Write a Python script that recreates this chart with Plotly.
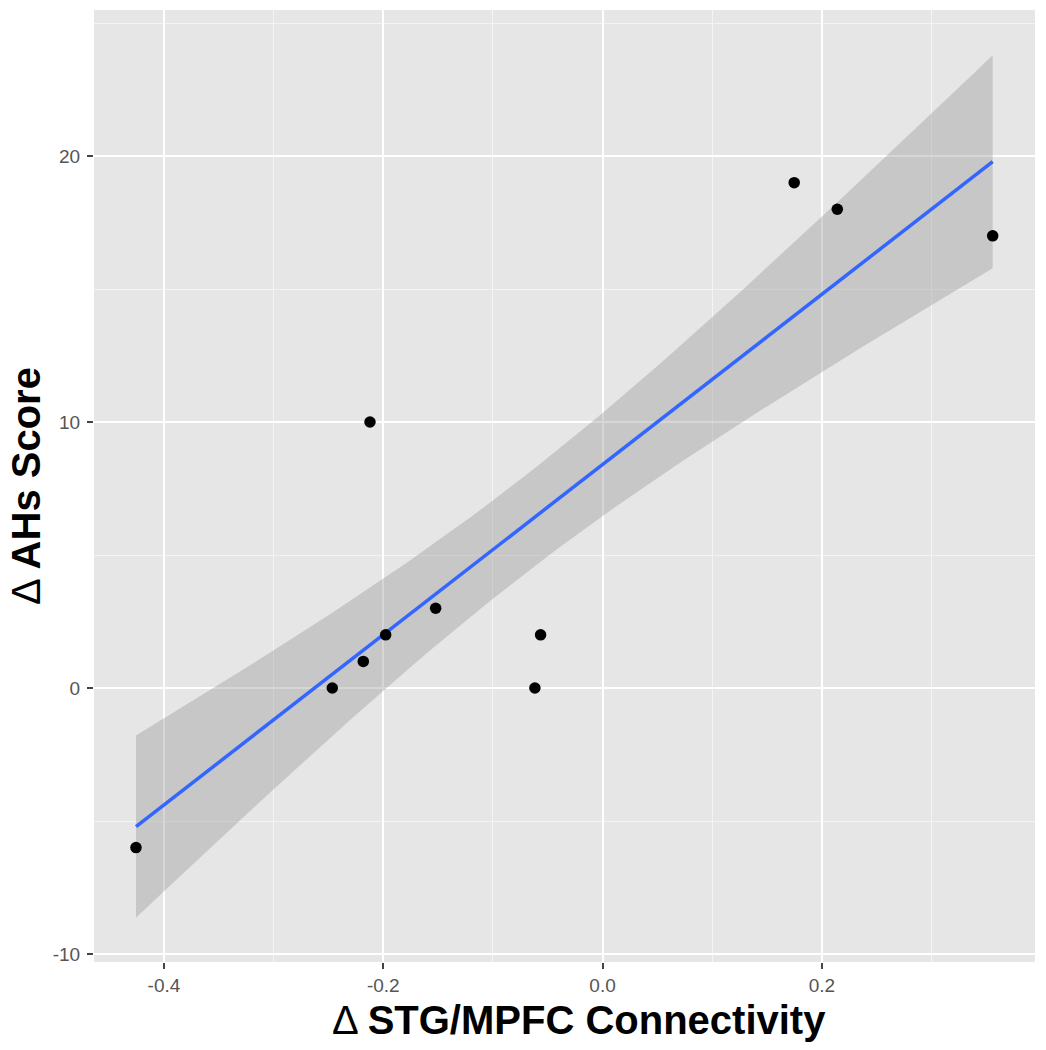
import numpy as np
import plotly.graph_objects as go

# Data
conn_change = [-0.4255, -0.2465, -0.2182, -0.1978, -0.2121, -0.1522,
               -0.0617, -0.0565, 0.1748, 0.2141, 0.3558]
ahs_change = [-6, 0, 1, 2, 10, 3, 0, 2, 19, 18, 17]

x_tickvals = [-0.4, -0.2, 0.0, 0.2]
x_ticktext = ["-0.4", "-0.2", "0.0", "0.2"]
y_tickvals = [-10, 0, 10, 20]
y_ticktext = ["-10", "0", "10", "20"]
x_minor = [-0.3, -0.1, 0.1, 0.3]
y_minor = [-5, 5, 15, 25]

# Linear model fit with confidence band (like geom_smooth(method="lm"))
x = np.array(conn_change)
y = np.array(ahs_change, dtype=float)
n = len(x)
mx, my = x.mean(), y.mean()
sxx = ((x - mx) ** 2).sum()
slope = ((x - mx) * (y - my)).sum() / sxx
intercept = my - slope * mx
resid = y - (intercept + slope * x)
sigma = np.sqrt((resid ** 2).sum() / (n - 2))
t_crit = 1.383029  # qt(0.90, df=9): band width as seen in the picture
xs = np.linspace(x.min(), x.max(), 80)
fit = intercept + slope * xs
se = sigma * np.sqrt(1 / n + (xs - mx) ** 2 / sxx)
lo = fit - t_crit * se
hi = fit + t_crit * se

fig = go.Figure()
fig.add_trace(go.Scatter(
    x=np.concatenate([xs, xs[::-1]]), y=np.concatenate([hi, lo[::-1]]),
    fill="toself", fillcolor="rgba(153,153,153,0.4)", line=dict(width=0),
    mode="lines", hoverinfo="skip", showlegend=False))
fig.add_trace(go.Scatter(
    x=xs, y=fit, mode="lines", line=dict(color="#3366FF", width=3.5),
    showlegend=False))
fig.add_trace(go.Scatter(
    x=conn_change, y=ahs_change, mode="markers",
    marker=dict(color="black", size=11.5), showlegend=False))

font_family = "Liberation Sans, Arial, sans-serif"
tick_font = dict(family=font_family, size=19, color="#555555")

# The page body adds an 8px offset; panel lands at page x 94..1035, y 10..962
fig.update_layout(
    width=1038, height=1042,
    margin=dict(l=86, r=11, t=2, b=88),
    paper_bgcolor="white", plot_bgcolor="#E6E6E6",
    font=dict(family=font_family),
    xaxis=dict(range=[-0.4638, 0.3944], tickmode="array",
               tickvals=x_tickvals, ticktext=x_ticktext,
               showgrid=True, gridcolor="white", gridwidth=2.2,
               zeroline=False, showline=False,
               ticks="outside", ticklen=6, tickwidth=1.5, tickcolor="#444444",
               tickfont=tick_font,
               minor=dict(tickvals=x_minor, showgrid=True,
                          gridcolor="#F4F4F4", gridwidth=1, ticks="")),
    yaxis=dict(range=[-10.30, 25.49], tickmode="array",
               tickvals=y_tickvals, ticktext=y_ticktext,
               showgrid=True, gridcolor="white", gridwidth=2.2,
               zeroline=False, showline=False,
               ticks="outside", ticklen=6, tickwidth=1.5, tickcolor="#444444",
               tickfont=tick_font, ticklabelstandoff=3,
               minor=dict(tickvals=y_minor, showgrid=True,
                          gridcolor="#F4F4F4", gridwidth=1, ticks="")),
    annotations=[
        dict(text="Δ <b>STG/MPFC Connectivity</b>", xref="paper", yref="paper",
             x=(579 - 94) / 941, y=-(1020 - 962) / 952,
             xanchor="center", yanchor="middle", showarrow=False,
             font=dict(family=font_family, size=40, color="black")),
        dict(text="Δ <b>AHs Score</b>", xref="paper", yref="paper",
             x=-(94 - 26) / 941, y=0.5, textangle=-90,
             xanchor="center", yanchor="middle", showarrow=False,
             font=dict(family=font_family, size=40, color="black")),
    ],
)

fig.write_html("out.html")
